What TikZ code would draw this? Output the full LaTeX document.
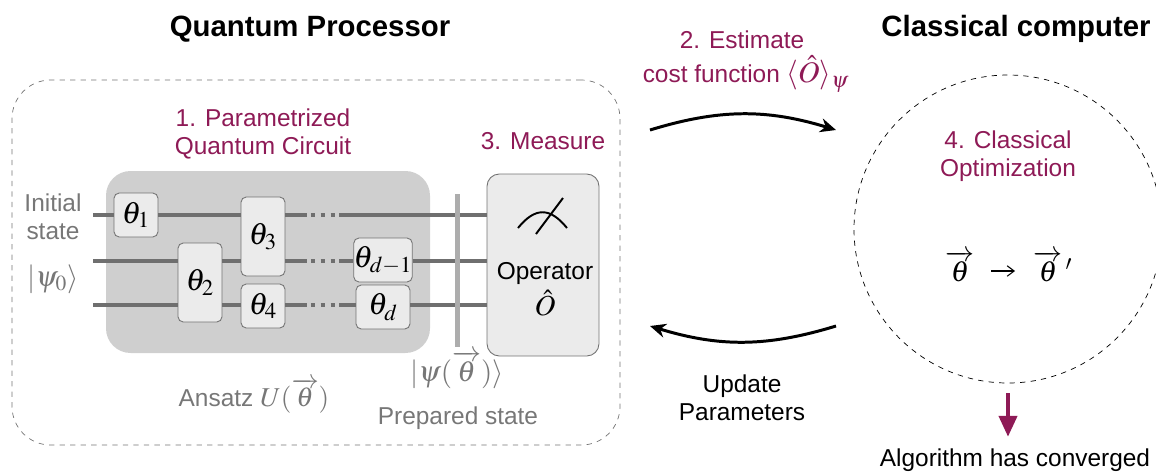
\documentclass[tikz,border=0pt]{standalone}
\usepackage{amsmath}
\usepackage{mathptmx}
\usepackage[no-math]{fontspec}
\setmainfont{Liberation Sans}
\usepackage{xcolor}
\usetikzlibrary{arrows.meta}
\definecolor{plum}{HTML}{8E1A56}
\definecolor{wiregray}{HTML}{6F6F6F}
\definecolor{textgray}{HTML}{777777}
\newcommand{\thetavec}{\overrightarrow{\rule{0pt}{1.3ex}\theta}}
\tikzset{
  lbl/.style={inner sep=0pt, font=\fontsize{13.9pt}{15.8pt}\selectfont},
  title/.style={inner sep=0pt, font=\fontsize{16.7pt}{18pt}\selectfont\bfseries},
  plumlbl/.style={lbl, text=plum},
  graylbl/.style={lbl, text=textgray},
  mathlbl/.style={font=\fontsize{16.5pt}{18pt}\selectfont},
  gate/.style={draw=black!55, fill=black!8, rounded corners=3pt, inner sep=0pt, line width=0.5pt, font=\fontsize{17.5pt}{18pt}\selectfont},
  wire/.style={draw=wiregray, line width=2.5pt},
  flow/.style={black, line width=1.7pt, -{Stealth[length=9pt,width=8pt]}},
}
\begin{document}
\begin{tikzpicture}[x=0.02cm,y=-0.02cm]
\useasboundingbox (0,0) rectangle (1156,474);
\node[title] (qptitle) at (310,29) {Quantum Processor};
\node[title] (cctitle) at (1016,29) {Classical computer};
\node[draw=black!55, dashed, line width=0.4pt, rounded corners=22pt, minimum width=608*0.02cm, minimum height=365*0.02cm] (qpu) at (316,262.5) {};
\node[fill=black!19, rounded corners=14pt, minimum width=324*0.02cm, minimum height=182*0.02cm] (panel) at (268,262) {};
\node[gate, minimum width=44*0.02cm, minimum height=44*0.02cm] (g1) at (136,215) {$\theta_1$};
\node[gate, minimum width=44*0.02cm, minimum height=79*0.02cm] (g2) at (200,282.5) {$\theta_2$};
\node[gate, minimum width=44*0.02cm, minimum height=79*0.02cm] (g3) at (263,236.5) {$\theta_3$};
\node[gate, minimum width=44*0.02cm, minimum height=44*0.02cm] (g4) at (263,306) {$\theta_4$};
\node[gate, minimum width=54*0.02cm, minimum height=44*0.02cm] (g5) at (383,260) {$\theta_{d-1}$};
\node[gate, minimum width=54*0.02cm, minimum height=44*0.02cm] (g6) at (383,307) {$\theta_d$};
\node[gate, rounded corners=7pt, minimum width=112*0.02cm, minimum height=182*0.02cm] (op) at (543,265) {};
\coordinate (in1) at (93,215);
\coordinate (in2) at (93,261);
\coordinate (in3) at (93,305);
\coordinate (top1) at (307,215);
\coordinate (top2) at (339,215);
\coordinate (mid1) at (307,261);
\coordinate (mid2) at (339,261);
\coordinate (low1) at (307,305);
\coordinate (low2) at (339,305);
\draw[wire] (in1) -- (in1 -| g1.west);
\draw[wire] (in1 -| g1.east) -- (in1 -| g3.west);
\draw[wire] (in1 -| g3.east) -- (top1);
\draw[wire, dash pattern=on 2.6pt off 3pt, dash phase=-2.2pt] (top1) -- (top2);
\draw[wire] (top2) -- (in1 -| op.west);
\draw[wire] (in2) -- (in2 -| g2.west);
\draw[wire] (in2 -| g2.east) -- (in2 -| g3.west);
\draw[wire] (in2 -| g3.east) -- (mid1);
\draw[wire, dash pattern=on 2.6pt off 3pt, dash phase=-2.2pt] (mid1) -- (mid2);
\draw[wire] (mid2) -- (in2 -| g5.west);
\draw[wire] (in2 -| g5.east) -- (in2 -| op.west);
\draw[wire] (in3) -- (in3 -| g2.west);
\draw[wire] (in3 -| g2.east) -- (in3 -| g4.west);
\draw[wire] (in3 -| g4.east) -- (low1);
\draw[wire, dash pattern=on 2.6pt off 3pt, dash phase=-2.2pt] (low1) -- (low2);
\draw[wire] (low2) -- (in3 -| g6.west);
\draw[wire] (in3 -| g6.east) -- (in3 -| op.west);
\coordinate (bartop) at (457.5,194);
\coordinate (barbot) at (457.5,347);
\draw[draw=black!32, line width=2.3pt] (bartop) -- (barbot);
\coordinate (arcl) at (518,228);
\coordinate (arcr) at (567,228);
\coordinate (ndl) at (536,234);
\coordinate (ndr) at (563,198);
\draw[black, line width=1.1pt] (arcl) .. controls (535,207) and (550,207) .. (arcr);
\draw[black, line width=1.1pt] (ndl) -- (ndr);
\node[lbl] (oplbl) at (545,274) {Operator};
\node[lbl, mathlbl] (ophat) at (545,303) {$\hat{O}$};
\node[plumlbl, align=center] (pqc) at (263,134) {1. Parametrized\\Quantum Circuit};
\node[plumlbl] (meas) at (543,141) {3. Measure};
\node[graylbl, align=center] (init) at (53,217) {Initial\\state};
\node[graylbl, mathlbl] (psi0) at (53,279) {$|\psi_0\rangle$};
\node[graylbl] (ansatz) at (254,396) {Ansatz {\fontsize{15.5pt}{18pt}\selectfont$U(\thetavec)$}};
\node[graylbl, mathlbl] (psi) at (457,370) {$|\psi(\thetavec)\rangle$};
\node[graylbl] (prep) at (458,418) {Prepared state};
\node[plumlbl] (est) at (742,40) {2. Estimate};
\node[plumlbl] (cost) at (746,74) {cost function {\fontsize{17pt}{18pt}\selectfont$\langle\hat{O}\rangle_\psi$}};
\node[draw=black, dashed, line width=0.4pt, circle, minimum size=308*0.02cm] (cpu) at (1008,229) {};
\node[plumlbl, align=center] (opt) at (1008,156) {4. Classical\\Optimization};
\node[lbl, mathlbl] (th1) at (960,266) {$\thetavec$};
\node[lbl, mathlbl] (th2) at (1053,266) {$\thetavec\,'$};
\coordinate (ar1) at (991,271);
\coordinate (ar2) at (1015,271);
\draw[black, line width=0.6pt, -{Straight Barb[length=4pt,width=6pt]}] (ar1) -- (ar2);
\coordinate (a1) at (650,130);
\coordinate (a2) at (836,130);
\coordinate (b1) at (836,326);
\coordinate (b2) at (650,326);
\draw[flow] (a1) to[bend left=17] (a2);
\draw[flow] (b1) to[bend left=17] (b2);
\node[lbl, align=center] (upd) at (742,398) {Update\\Parameters};
\coordinate (conv1) at (1008,393);
\node[lbl] (algo) at (1015,460) {Algorithm has converged};
\draw[plum, line width=2.8pt, -{Triangle[length=12pt,width=10pt]}] (conv1) -- (conv1 |- 0,437);
\end{tikzpicture}
\end{document}
